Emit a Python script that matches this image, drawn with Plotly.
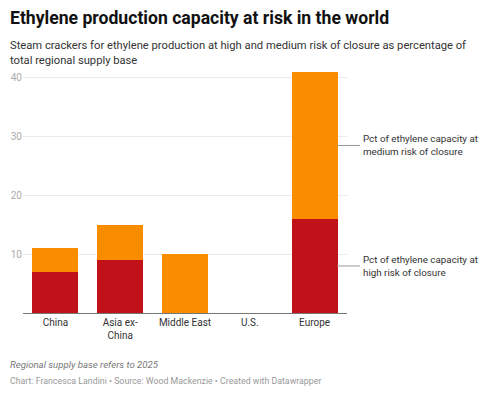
import plotly.graph_objects as go

categories = ["China", "Asia ex-<br>China", "Middle East", "U.S.", "Europe"]
high_risk = [7, 9, 0, 0, 16]
medium_risk = [4, 6, 10, 0, 25]
y_ticks = [10, 20, 30, 40]

RED = "#c1121a"
ORANGE = "#fa8c00"
FONT = "Roboto"

# page body has an 8px margin; work in window pixels and shift
OFF = 8
W, H = 500 - OFF, 393 - OFF
L, R, T, B = 23 - OFF, W - (347 - OFF), 72 - OFF, H - (313 - OFF)
pw, ph = W - L - R, H - T - B

def px(x):
    return (x - OFF - L) / pw

def py(y):
    return (H - B - (y - OFF)) / ph

fig = go.Figure()
fig.add_trace(go.Bar(x=categories, y=high_risk, marker=dict(color=RED, line=dict(width=0)),
                     name="Pct of ethylene capacity at high risk of closure"))
fig.add_trace(go.Bar(x=categories, y=medium_risk, marker=dict(color=ORANGE, line=dict(width=0)),
                     name="Pct of ethylene capacity at medium risk of closure"))

fig.update_layout(
    barmode="stack", bargap=0.29, showlegend=False,
    width=W, height=H, margin=dict(l=L, r=R, t=T, b=B),
    paper_bgcolor="white", plot_bgcolor="white",
    font=dict(family=FONT, color="#333"),
    xaxis=dict(showgrid=False, tickfont=dict(size=10, color="#333"), ticks="",
               showline=True, linecolor="#777", linewidth=1, automargin=False),
    yaxis=dict(range=[0, 41], tickvals=y_ticks, showgrid=True, gridcolor="#ebebeb",
               tickfont=dict(size=10, color="#aaa"), zeroline=False, ticks="",
               showline=False, automargin=False),
)

mid_med = high_risk[-1] + medium_risk[-1] / 2
mid_high = high_risk[-1] / 2
for yv, txt in [(mid_med, "Pct of ethylene capacity at<br>medium risk of closure"),
                (mid_high, "Pct of ethylene capacity at<br>high risk of closure")]:
    fig.add_shape(type="line", xref="paper", yref="y", x0=px(337), x1=px(360), y0=yv, y1=yv,
                  line=dict(color="#999", width=1))
    fig.add_annotation(xref="paper", yref="y", x=px(361), y=yv, text=txt, showarrow=False,
                       xanchor="left", yanchor="middle", align="left",
                       font=dict(size=9.8, color="#333", family=FONT))

fig.add_annotation(xref="paper", yref="paper", x=px(8), y=py(6), xanchor="left", yanchor="top",
                   text="<b>Ethylene production capacity at risk in the world</b>", showarrow=False,
                   font=dict(size=17.6, color="#111", family=FONT))
fig.add_annotation(xref="paper", yref="paper", x=px(8), y=py(37), xanchor="left", yanchor="top",
                   align="left",
                   text="Steam crackers for ethylene production at high and medium risk of closure as percentage of<br>total regional supply base",
                   showarrow=False, font=dict(size=11.2, color="#333", family=FONT))
fig.add_annotation(xref="paper", yref="paper", x=px(8), y=py(357), xanchor="left", yanchor="top",
                   text="<i>Regional supply base refers to 2025</i>", showarrow=False,
                   font=dict(size=9.6, color="#777", family=FONT))
fig.add_annotation(xref="paper", yref="paper", x=px(8), y=py(374), xanchor="left", yanchor="top",
                   text="Chart: Francesca Landini • Source: Wood Mackenzie • Created with Datawrapper",
                   showarrow=False, font=dict(size=8.8, color="#999", family=FONT))

fig.write_html("out.html")
